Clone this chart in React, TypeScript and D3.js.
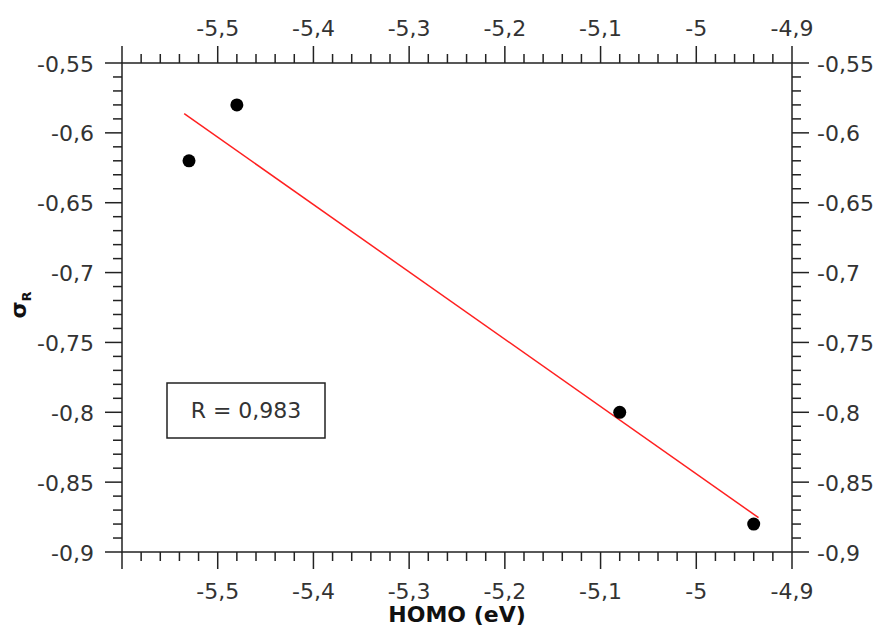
import React from "react";
import * as d3 from "d3";

const homo = [-5.53, -5.48, -5.08, -4.94];
const sigmaR = [-0.62, -0.58, -0.8, -0.88];
const xDomain = [-5.6, -4.9];
const yDomain = [-0.55, -0.9];
const xTicks = [-5.6, -5.5, -5.4, -5.3, -5.2, -5.1, -5.0, -4.9];
const xTickLabels = ["", "-5,5", "-5,4", "-5,3", "-5,2", "-5,1", "-5", "-4,9"];
const yTicks = [-0.55, -0.6, -0.65, -0.7, -0.75, -0.8, -0.85, -0.9];
const yTickLabels = ["-0,55", "-0,6", "-0,65", "-0,7", "-0,75", "-0,8", "-0,85", "-0,9"];
const fitRange = [-5.535, -4.935];
const rLabel = "R = 0,983";
const xTitle = "HOMO (eV)";

const L = 122, R = 792, T = 63, B = 552;
const MAJ = 17, MIN = 9;
const AX = "#222";
const TXT = "#333";
const FONT = "DejaVu Sans, Verdana, sans-serif";

export default function App() {
  const x = d3.scaleLinear().domain(xDomain).range([L, R]);
  const y = d3.scaleLinear().domain(yDomain).range([T, B]);

  const xMinor: number[] = [];
  for (let i = 0; i <= 35; i++) {
    if (i % 5 !== 0) xMinor.push(xDomain[0] + i * 0.02);
  }
  const yMinor: number[] = [];
  for (let i = 0; i <= 35; i++) {
    if (i % 5 !== 0) yMinor.push(yDomain[0] - i * 0.01);
  }

  const mx = d3.mean(homo)!;
  const my = d3.mean(sigmaR)!;
  let sxy = 0, sxx = 0;
  homo.forEach((v, i) => {
    sxy += (v - mx) * (sigmaR[i] - my);
    sxx += (v - mx) * (v - mx);
  });
  const slope = sxy / sxx;
  const fit = (v: number) => my + slope * (v - mx);
  const line = d3
    .line<number>()
    .x((d) => x(d))
    .y((d) => y(fit(d)));

  return (
    <svg
      width={880}
      height={630}
      style={{ position: "absolute", left: 0, top: 0, background: "#fff" }}
      fontFamily={FONT}
    >
      <rect x={0} y={0} width={880} height={630} fill="#fff" />
      <rect x={L} y={T} width={R - L} height={B - T} fill="none" stroke={AX} strokeWidth={1.5} />

      {xTicks.map((t, i) => (
        <g key={"xt" + i}>
          <line x1={x(t)} x2={x(t)} y1={T} y2={T - MAJ} stroke={AX} strokeWidth={1.5} />
          <line x1={x(t)} x2={x(t)} y1={B} y2={B + MAJ} stroke={AX} strokeWidth={1.5} />
          <text x={x(t)} y={36} textAnchor="middle" fontSize={22} fill={TXT}>
            {xTickLabels[i]}
          </text>
          <text x={x(t)} y={599} textAnchor="middle" fontSize={22} fill={TXT}>
            {xTickLabels[i]}
          </text>
        </g>
      ))}
      {xMinor.map((t, i) => (
        <g key={"xm" + i}>
          <line x1={x(t)} x2={x(t)} y1={T} y2={T - MIN} stroke={AX} strokeWidth={1.5} />
          <line x1={x(t)} x2={x(t)} y1={B} y2={B + MIN} stroke={AX} strokeWidth={1.5} />
        </g>
      ))}

      {yTicks.map((t, i) => (
        <g key={"yt" + i}>
          <line x1={L} x2={L - MAJ} y1={y(t)} y2={y(t)} stroke={AX} strokeWidth={1.5} />
          <line x1={R} x2={R + MAJ} y1={y(t)} y2={y(t)} stroke={AX} strokeWidth={1.5} />
          <text x={94} y={y(t) + 8.5} textAnchor="end" fontSize={22} fill={TXT}>
            {yTickLabels[i]}
          </text>
          <text x={817} y={y(t) + 8.5} textAnchor="start" fontSize={22} fill={TXT}>
            {yTickLabels[i]}
          </text>
        </g>
      ))}
      {yMinor.map((t, i) => (
        <g key={"ym" + i}>
          <line x1={L} x2={L - MIN} y1={y(t)} y2={y(t)} stroke={AX} strokeWidth={1.5} />
          <line x1={R} x2={R + MIN} y1={y(t)} y2={y(t)} stroke={AX} strokeWidth={1.5} />
        </g>
      ))}

      <path d={line(fitRange) || ""} fill="none" stroke="#ff2020" strokeWidth={1.5} />

      {homo.map((v, i) => (
        <circle key={"p" + i} cx={x(v)} cy={y(sigmaR[i])} r={6.5} fill="#000" />
      ))}

      <rect x={167} y={383} width={158} height={55} fill="#fff" stroke={AX} strokeWidth={1.5} />
      <text x={246} y={418} textAnchor="middle" fontSize={22} fill={TXT}>
        {rLabel}
      </text>

      <text x={457} y={622} textAnchor="middle" fontSize={22} fontWeight="bold" fill="#111">
        {xTitle}
      </text>
      <text transform="translate(26,305) rotate(-90)" textAnchor="middle" fontWeight="bold" fill="#111">
        <tspan fontSize={22}>σ</tspan>
        <tspan fontSize={13} dy={5}>R</tspan>
      </text>
    </svg>
  );
}
